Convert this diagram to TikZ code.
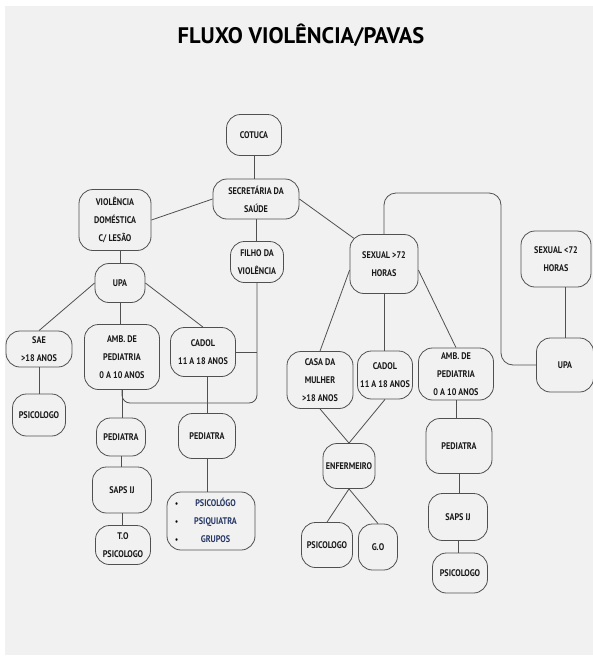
\documentclass[tikz,border=0pt]{standalone}
\usepackage{fontspec}
\setmainfont{PT Sans}[FakeStretch=0.85]
\newfontfamily\titlefont{PT Sans}
\usetikzlibrary{calc}
\definecolor{bgpaper}{RGB}{241,241,241}
\definecolor{edgegray}{RGB}{80,80,80}
\definecolor{navytext}{RGB}{38,56,102}

\begin{document}
\begin{tikzpicture}
  [x=1pt,y=-1pt,
     box/.style={draw=edgegray,
                 line width=0.8pt,
                 rounded corners=14pt,
                 align=center,
                 inner sep=2pt,
                 text=black!90,
                 font=\bfseries\fontsize{9.6}{18}\selectfont},
     sz/.style 2 args={minimum width=#1pt,
                 minimum height=#2pt},
     link/.style={draw=edgegray,
                 line width=0.8pt}
  ]
    \useasboundingbox (0,0) rectangle (593,657);
    \fill[bgpaper] (5,6) rectangle (593,655);

    \node[font=\titlefont\bfseries\fontsize{22.5}{26}\selectfont] (title) at (301,35) {FLUXO VIOLÊNCIA/PAVAS};

    % top
    \node[box,sz={55}{41}] (cotuca) at (254,135) {COTUCA};
    \node[box,sz={86}{40}] (secr) at (256,199) {SECRETÁRIA DA\\SAÚDE};
    \node[box,sz={72}{61}] (viol) at (115,220) {VIOLÊNCIA\\DOMÉSTICA\\C/ LESÃO};
    \node[box,sz={53}{41}] (filho) at (257,262) {FILHO DA\\VIOLÊNCIA};

    % left branch
    \node[box,sz={50}{39}] (upaE) at (120,283) {UPA};
    \node[box,sz={66}{36}] (sae) at (39,349) {SAE\\>18 ANOS};
    \node[box,sz={75}{65}] (ambE) at (122,357) {AMB. DE\\PEDIATRIA\\0 A 10 ANOS};
    \node[box,sz={65}{49}] (cadolE) at (203,352) {CADOL\\11 A 18 ANOS};
    \node[box,sz={53}{42}] (psiSae) at (39,415) {PSICOLOGO};
    \node[box,sz={49}{38}] (pedE) at (121,437) {PEDIATRA};
    \node[box,sz={57}{45}] (pedC) at (207,436) {PEDIATRA};
    \node[box,sz={59}{46}] (sapsE) at (122,490) {SAPS IJ};
    \node[box,sz={55}{39}] (toE) at (123,545) {T.O\\PSICOLOGO};
    \node[box,sz={88}{58},text=navytext] (grpC) at (211,521)
      {\begin{tabular}{@{}l@{\hspace{16pt}}c@{\hspace{10pt}}}
         {\footnotesize\color{black}\textbullet} & PSICOLÓGO\\
         {\footnotesize\color{black}\textbullet} & PSIQUIATRA\\
         {\footnotesize\color{black}\textbullet} & GRUPOS
       \end{tabular}};

    % right branch
    \node[box,sz={68}{59}] (sexM) at (384,264) {SEXUAL >72\\HORAS};
    \node[box,sz={70}{56}] (sexm) at (556,259) {SEXUAL <72\\HORAS};
    \node[box,sz={57}{54}] (upaD) at (565,365) {UPA};
    \node[box,sz={66}{57}] (casa) at (320,380) {CASA DA\\MULHER\\>18 ANOS};
    \node[box,sz={55}{48}] (cadolD) at (385,375) {CADOL\\11 A 18 ANOS};
    \node[box,sz={75}{52}] (ambD) at (456,374) {AMB. DE\\PEDIATRIA\\0 A 10 ANOS};
    \node[box,sz={66}{55}] (pedD) at (459,446) {PEDIATRA};
    \node[box,sz={52}{45}] (enf) at (349,466) {ENFERMEIRO};
    \node[box,sz={51}{45}] (psiEnf) at (327,545) {PSICOLOGO};
    \node[box,sz={39}{46}] (go) at (378,547) {G.O};
    \node[box,sz={59}{47}] (sapsD) at (458,517) {SAPS IJ};
    \node[box,sz={55}{40}] (psiD) at (460,573) {PSICOLOGO};

    \coordinate (lowE) at (0,403);
    \coordinate (topD) at (501,193);

    \draw[link] (cotuca.south) -- (cotuca.south |- secr.north);
    \draw[link] (secr.west) -- (viol.east);
    \draw[link] (secr.south) -- (secr.south |- filho.north);
    \draw[link] (secr.east) -- ($(sexM.north west)+(4.1,4.1)$);
    \draw[link] (upaE.north) -- (upaE.north |- viol.south);
    \draw[link] (upaE.west) -- (sae.north);
    \draw[link] (upaE.south) -- (upaE.south |- ambE.north);
    \draw[link] (upaE.east) -- (cadolE.north);
    \draw[link] (sae.south) -- (psiSae.north);
    \draw[link] (ambE.south) -- (ambE.south |- pedE.north);
    \draw[link] (pedE.south) -- (pedE.south |- sapsE.north);
    \draw[link] (sapsE.south) -- (sapsE.south |- toE.north);
    \draw[link] (pedC.north) -- (pedC.north |- cadolE.south);
    \draw[link] (pedC.south) -- (pedC.south |- grpC.north);
    \draw[link,rounded corners=8pt] (filho.south) -- (filho.south |- lowE) -| (ambE.south);
    \draw[link] (cadolE.east) -- (cadolE.east -| filho.south);

    \draw[link] (sexM.190) -- (casa.north);
    \draw[link] (sexM.south) -- (sexM.south |- cadolD.north);
    \draw[link] (sexM.350) -- (ambD.north);
    \draw[link] (casa.south) -- (enf.north);
    \draw[link] (cadolD.south) -- (enf.north);
    \draw[link] (enf.south) -- (psiEnf.north);
    \draw[link] (enf.south) -- (go.north);
    \draw[link] (ambD.south) -- (ambD.south |- pedD.north);
    \draw[link] (pedD.south) -- (pedD.south |- sapsD.north);
    \draw[link] (sapsD.south) -- (sapsD.south |- psiD.north);
    \draw[link] (upaD.north) -- (upaD.north |- sexm.south);
    \draw[link,rounded corners=12pt] (sexM.north) |- (topD) |- (upaD.west);
\end{tikzpicture}
\end{document}
